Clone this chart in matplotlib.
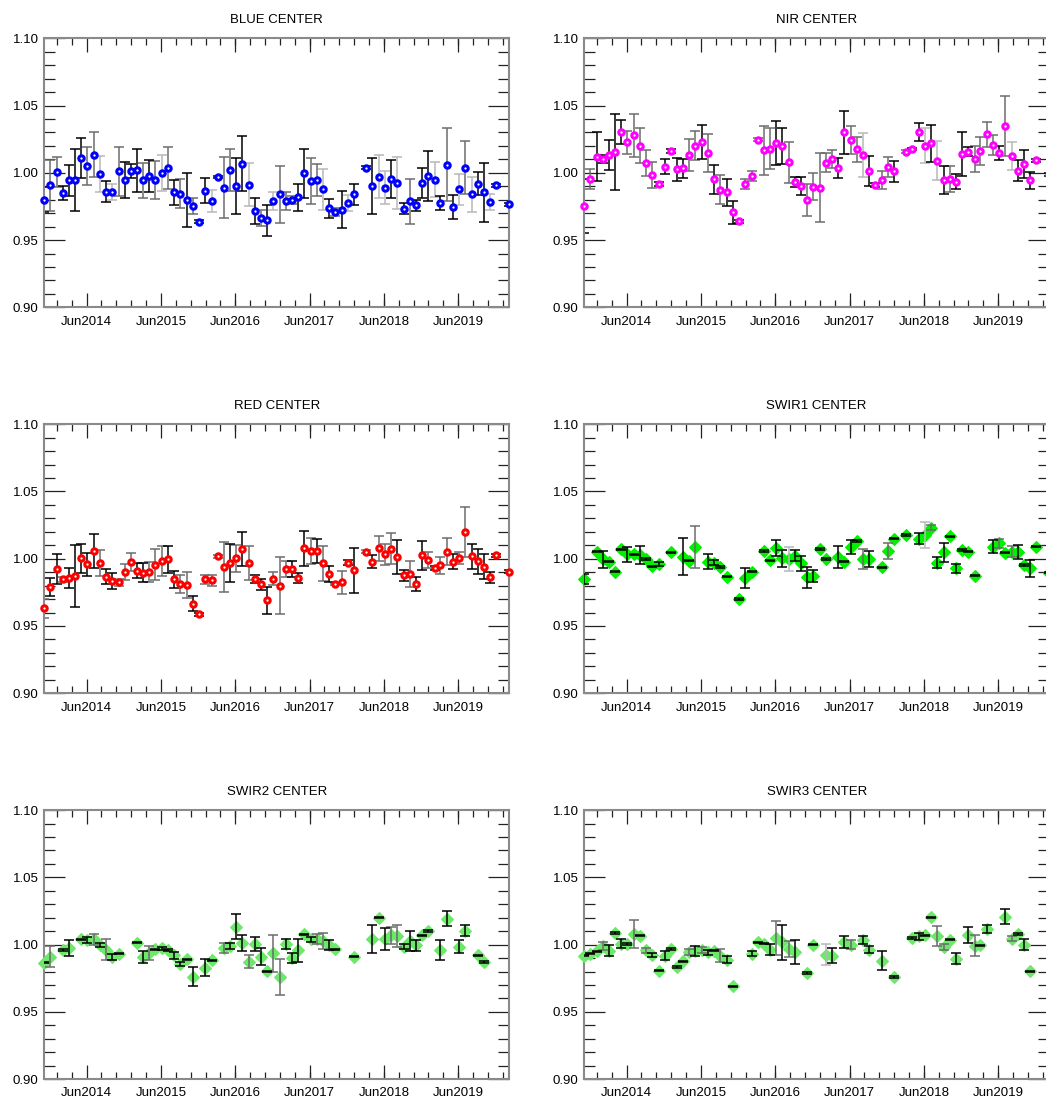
import numpy as np
import pandas as pd
import matplotlib
matplotlib.use('Agg')
import matplotlib.pyplot as plt
import matplotlib.dates as mdates
from matplotlib.ticker import MultipleLocator, AutoMinorLocator, FormatStrFormatter

plt.rcParams['font.family'] = ['Liberation Sans', 'DejaVu Sans']

# monthly acquisition slots, Nov2013 .. Feb2020
dates = pd.date_range('2013-11-05', periods=76, freq=pd.DateOffset(months=1))

blue_val = [0.980, 0.9906, 1.0005, 0.985, 0.9943, 0.9948, 1.011, 1.005, 1.0136, 0.999,
            0.986, 0.986, 1.001, 0.9945, 1.0015, 1.002, 0.9945, 0.9975, 0.9945, 1.000,
            1.0037, 0.9854, 0.9846, 0.980, 0.9755, 0.9636, 0.9866, 0.979, 0.9968, 0.989,
            1.002, 0.990, 1.0067, 0.991, 0.9717, 0.9663, 0.9646, 0.979, 0.984, 0.979,
            0.9797, 0.9817, 0.9995, 0.994, 0.9945, 0.9876, 0.9737, 0.9708, 0.9727, 0.9777,
            0.9839, None, 1.0037, 0.990, 0.997, 0.989, 0.9953, 0.9926, 0.9732, 0.9787,
            0.9757, 0.9923, 0.9978, 0.995, 0.9777, 1.006, 0.9747, 0.9876, 1.0037, 0.984,
            0.992, 0.9854, 0.9784, 0.9906, None, 0.9765]
blue_err = [0.0095, 0.019, 0.011, 0.0055, 0.0117, 0.023, 0.015, 0.014, 0.0165, 0.0135,
            0.0077, 0.006, 0.018, 0.0135, 0.0053, 0.016, 0.013, 0.012, 0.014, 0.0135,
            0.0157, 0.009, 0.011, 0.020, 0.006, 0.001, 0.0093, 0.0083, 0.001, 0.0225,
            0.0155, 0.021, 0.0205, 0.016, 0.0095, 0.006, 0.0114, 0.0065, 0.021, 0.007,
            0.003, 0.010, 0.0183, 0.017, 0.012, 0.015, 0.007, 0.003, 0.014, 0.006,
            0.008, None, 0.001, 0.021, 0.016, 0.0125, 0.014, 0.0195, 0.004, 0.017,
            0.004, 0.011, 0.0186, 0.013, 0.005, 0.027, 0.0087, 0.0118, 0.0198, 0.013,
            0.0087, 0.022, 0.0057, 0.001, None, 0.001]
blue_ec = ("kddkkkkddl" "kldkkkdkdl" "dkdkdkklkd" "dkklkdkldd"
           "dkkddlkdkl" "k.kkllklkd" "kkklkdkldl" "kklk.k")

nir_val = [0.9753, 0.9951, 1.012, 1.0103, 1.0132, 1.0155, 1.0303, 1.0227, 1.0279, 1.0202,
           1.007, 0.9984, 0.9917, 1.0046, 1.0162, 1.0026, 1.0033, 1.0132, 1.0202, 1.0229,
           1.0147, 0.9951, 0.9875, 0.9855, 0.9706, 0.9639, 0.9917, 0.9976, 1.0246, 1.0167,
           1.018, 1.0222, 1.0199, 1.0078, 0.9932, 0.9904, 0.9798, 0.9897, 0.989, 1.0075,
           1.0103, 1.0036, 1.0303, 1.0246, 1.0174, 1.0132, 1.0013, 0.9907, 0.9946, 1.0046,
           1.0011, None, 1.0157, 1.0177, 1.0301, 1.0202, 1.0219, 1.0088, 0.9946, 0.9954,
           0.9934, 1.014, 1.0157, 1.0103, 1.0162, 1.0286, 1.0207, 1.015, 1.0348, 1.0124,
           1.0016, 1.0063, 0.9944, 1.0093, None, 0.9985]
nir_err = [0.0198, 0.0075, 0.018, 0.003, 0.0114, 0.028, 0.009, 0.0087, 0.0158, 0.013,
           0.0097, 0.0096, 0.0015, 0.0056, 0.0015, 0.0087, 0.0068, 0.0117, 0.011, 0.0124,
           0.0138, 0.0105, 0.011, 0.010, 0.0088, 0.001, 0.004, 0.004, 0.001, 0.018,
           0.015, 0.0163, 0.0135, 0.0154, 0.0037, 0.0067, 0.012, 0.0102, 0.0256, 0.007,
           0.0066, 0.0072, 0.016, 0.0104, 0.0093, 0.0165, 0.011, 0.0015, 0.0066, 0.0074,
           0.0077, None, 0.001, 0.001, 0.0068, 0.013, 0.0136, 0.0145, 0.0104, 0.0097,
           0.0057, 0.0165, 0.0035, 0.0094, 0.0107, 0.0095, 0.0073, 0.0053, 0.0226, 0.0103,
           0.008, 0.0103, 0.0062, 0.001, None, 0.001]
nir_ec = ("kdkkkkkddd" "ddkkkkkddk" "dkdkkkdddd" "dkkdkkdddd"
          "dkkddlkkdd" "k.dkklklkd" "kkkddddkdl" "kkkk.k")

red_val = [0.9631, 0.9792, 0.9923, 0.9846, 0.9854, 0.9869, 1.0002, 0.9958, 1.0057, 0.9965,
           0.9866, 0.9834, 0.9824, 0.9901, 0.9975, 0.9911, 0.9896, 0.9901, 0.9955, 0.9985,
           0.9995, 0.9846, 0.9812, 0.9807, 0.9665, 0.9586, 0.9846, 0.9839, 1.0017, 0.9936,
           0.997, 1.0002, 1.0074, 0.9968, 0.9849, 0.9809, 0.969, 0.9851, 0.9799, 0.9923,
           0.9923, 0.9854, 1.0077, 1.0057, 1.0057, 0.9965, 0.9886, 0.9812, 0.9824, 0.997,
           0.9913, None, 1.0052, 0.9978, 1.0077, 1.0032, 1.0074, 1.0012, 0.9876, 0.9886,
           0.9812, 1.0025, 0.999, 0.9933, 0.995, 1.0052, 0.9978, 1.0007, 1.0198, 1.0017,
           0.998, 0.994, 0.9861, 1.0025, None, 0.9903]
red_err = [0.007, 0.0067, 0.0114, 0.002, 0.0074, 0.023, 0.0105, 0.0088, 0.0123, 0.0097,
           0.0056, 0.0056, 0.0025, 0.0056, 0.0065, 0.0056, 0.007, 0.0072, 0.0115, 0.011,
           0.0102, 0.0066, 0.0066, 0.0096, 0.0056, 0.001, 0.0034, 0.004, 0.001, 0.0185,
           0.014, 0.0103, 0.0126, 0.0128, 0.003, 0.0038, 0.0103, 0.005, 0.021, 0.006,
           0.006, 0.0037, 0.013, 0.0097, 0.0087, 0.013, 0.0057, 0.001, 0.0084, 0.002,
           0.0165, None, 0.001, 0.005, 0.0093, 0.008, 0.0114, 0.0124, 0.004, 0.0094,
           0.005, 0.011, 0.0062, 0.0016, 0.0065, 0.01, 0.0057, 0.0043, 0.0185, 0.0092,
           0.0093, 0.0093, 0.004, 0.001, None, 0.001]
red_ec = ("dkkdkkkkkd" "kkdddkkddd" "kkddkkdddd" "kdkdkkkddd"
          "kkkdkdkddk" "k.dkdddkkd" "kkdkddkddk" "kkkk.k")

swir1_val = [0.9849, None, 1.0052, 0.9995, 0.9978, 0.9903, 1.0069, 1.0032, 1.0032, 1.0027,
             0.9998, 0.9943, 0.9963, None, 1.0047, None, 1.0015, 0.9985, 1.0089, None,
             0.9978, 0.997, 0.9938, 0.9866, None, 0.97, 0.9859, 0.9903, None, 1.0057,
             0.9988, 1.0077, 1.0002, 0.9998, 1.0022, 0.9965, 0.9861, 0.9871, 1.0072, 0.9998,
             None, 1.0015, 0.9978, 1.0089, 1.0131, 0.9998, 0.9998, None, 0.9936, 1.0057,
             1.0149, None, 1.0176, None, 1.0149, 1.0176, 1.023, 0.997, 1.0047, 1.0166,
             0.9928, 1.0064, 1.0052, 0.9874, None, None, 1.0089, 1.0114, 1.0045, 1.0052,
             1.0052, 0.9953, 0.9928, 1.0089, None, 0.9896]
swir1_err = [0.004, None, 0.0005, 0.0065, 0.0005, 0.0005, 0.0005, 0.0058, 0.0005, 0.0065,
             0.0005, 0.0005, 0.0016, None, 0.0005, None, 0.0136, 0.0005, 0.0155, None,
             0.0056, 0.002, 0.0005, 0.0005, None, 0.0005, 0.0074, 0.0005, None, 0.0005,
             0.0005, 0.006, 0.006, 0.009, 0.004, 0.0056, 0.0078, 0.0046, 0.0005, 0.0005,
             None, 0.0082, 0.0005, 0.0052, 0.0005, 0.0074, 0.0062, None, 0.0005, 0.006,
             0.0005, None, 0.0005, None, 0.0043, 0.01, 0.002, 0.004, 0.0068, 0.0005,
             0.0036, 0.0005, 0.0005, 0.0005, None, None, 0.005, 0.0035, 0.0005, 0.0043,
             0.0052, 0.0005, 0.0062, 0.0005, None, 0.0005]
swir1_ec = ("k.kkkkkkkk" "kkk.k.kkd." "kkkk.kkk.k" "kkklkkkkkk"
            ".kkkkdk.kd" "k.k.kldkkk" "kkkk..kdkd" "kkkk.k")

swir2_val = [0.9866, 0.9911, None, 0.996, 0.9973, None, 1.004, 1.0032, 1.004, 0.9995,
             0.996, 0.9908, 0.9933, None, None, 1.0015, 0.9908, 0.994, 0.9965, 0.9973,
             0.996, 0.9921, 0.9859, 0.9891, 0.9762, None, 0.9829, 0.9884, None, 0.9978,
             0.999, 1.0134, 1.0015, 0.9874, 1.0002, 0.9911, 0.9802, 0.9936, 0.976, 1.0002,
             0.9903, 0.9958, 1.0077, 1.004, 1.0045, 1.0027, 0.9995, 0.9965, None, None,
             0.9911, None, None, 1.004, 1.0201, 1.004, 1.0069, 1.0064, 0.9985, 1.0027,
             0.9995, 1.0069, 1.0102, None, 0.996, 1.0193, None, 0.9983, 1.0104, None,
             0.9921, 0.9871, None, None, None, None]
swir2_err = [0.0005, 0.0077, None, 0.0005, 0.0058, None, 0.0005, 0.0022, 0.004, 0.0016,
             0.0078, 0.002, 0.0005, None, None, 0.0005, 0.0047, 0.0053, 0.0005, 0.001,
             0.0005, 0.0025, 0.0015, 0.0005, 0.0068, None, 0.0062, 0.0005, None, 0.0037,
             0.0025, 0.0092, 0.006, 0.0047, 0.0053, 0.0064, 0.0005, 0.0137, 0.0135, 0.0037,
             0.0037, 0.0084, 0.0005, 0.002, 0.0037, 0.0062, 0.0037, 0.0005, None, None,
             0.0005, None, None, 0.0105, 0.0005, 0.008, 0.0062, 0.0083, 0.002, 0.0077,
             0.004, 0.0005, 0.0005, None, 0.0074, 0.0057, None, 0.0048, 0.004, None,
             0.0005, 0.0005, None, None, None, None]
swir2_ec = ("kd.kk.kkdk" "dkk..kkdkk" "kkkkk.kk.d" "kkkdkkkddk"
            "kkkkddkk.." "k..kkkddkk" "kkk.kk.kk." "kk....")

swir3_val = [0.9918, 0.9933, 0.995, 0.9993, 0.9955, 1.0087, 1.0005, 1.0005, 1.0079, 1.0067,
             0.9958, 0.9921, 0.9807, 0.9918, 0.9968, 0.9834, 0.9876, 0.9945, 0.995, 0.9963,
             0.9943, 0.9955, 0.9918, 0.9888, 0.969, None, None, 0.9933, 1.0017, 1.0007,
             0.9963, 1.005, 1.0017, 0.997, 0.9943, None, 0.9789, 1.0, None, 0.9926,
             0.9918, None, 1.002, 1.0, None, 1.0037, 0.9963, None, 0.9881, None,
             0.976, None, None, 1.005, 1.0062, 1.0069, 1.0203, 1.0062, 0.9983, 1.0037,
             0.9896, None, 1.0069, 0.9993, 0.9995, 1.0116, None, None, 1.0206, 1.0045,
             1.0079, 1.0, 0.9802, None, None, None]
swir3_err = [0.0005, 0.0005, 0.0005, 0.003, 0.0042, 0.0005, 0.0033, 0.0005, 0.0103, 0.0005,
             0.002, 0.0016, 0.0005, 0.0036, 0.0005, 0.0005, 0.0005, 0.0025, 0.0038, 0.0022,
             0.002, 0.0005, 0.0048, 0.0025, 0.0005, None, None, 0.002, 0.0005, 0.0005,
             0.0042, 0.0126, 0.0129, 0.006, 0.009, None, 0.0005, 0.0005, None, 0.0077,
             0.0056, None, 0.0043, 0.0035, None, 0.003, 0.0025, None, 0.0073, None,
             0.0005, None, None, 0.0005, 0.0027, 0.0005, 0.0005, 0.0074, 0.0023, 0.0005,
             0.0043, None, 0.006, 0.0075, 0.0005, 0.0027, None, None, 0.0056, 0.002,
             0.0005, 0.0043, 0.0005, None, None, None]
swir3_ec = ("kkkdkkkkdk" "dkkkkkkdkd" "kkdkk..kkk" "kdkdk.kk.l"
            "k.kd.kk.k." "k..kkkkddk" "k.kdkk..kd" "kkk...")

bar_grays = {'k': '#000000', 'd': '#6c6c6c', 'l': '#b8b8b8'}


def draw_panel(ax, title, vals, errs, codes, color, marker):
    y = np.array(vals, dtype=float)
    e = np.array(errs, dtype=float)
    codes = np.array(list(codes))
    ok = ~np.isnan(y)
    diamond = marker == 'D'

    for c in ['l', 'd', 'k']:
        m = ok & (codes == c)
        if m.sum() == 0:
            continue
        ax.errorbar(dates[m], y[m], yerr=e[m], fmt='none', ecolor=bar_grays[c],
                    elinewidth=1.1, capsize=3.3, capthick=1.1,
                    zorder=4 if diamond else 2)

    if diamond:
        ax.plot(dates[ok], y[ok], ls='none', marker='D', ms=5.8, mfc=color,
                mec=color, mew=0.8, zorder=3, clip_on=False)
    else:
        ax.plot(dates[ok], y[ok], ls='none', marker='o', ms=3.9, mfc='white',
                mec=color, mew=2.2, zorder=3, clip_on=False)

    ax.set_xlim(dates[0], dates[-1])
    ax.set_ylim(0.90, 1.10)
    ax.yaxis.set_major_locator(MultipleLocator(0.05))
    ax.yaxis.set_minor_locator(MultipleLocator(0.01))
    ax.yaxis.set_major_formatter(FormatStrFormatter('%.2f'))
    ax.xaxis.set_major_locator(mdates.YearLocator(month=6, day=1))
    ax.xaxis.set_major_formatter(mdates.DateFormatter('%b%Y'))
    ax.xaxis.set_minor_locator(AutoMinorLocator(5))

    ax.tick_params(which='both', direction='in', top=True, right=True,
                   color='#222222', width=0.9, labelsize=9.5)
    ax.tick_params(axis='y', which='major', length=15, pad=4)
    ax.tick_params(axis='y', which='minor', length=8)
    ax.tick_params(axis='x', which='major', length=10, pad=6)
    ax.tick_params(axis='x', which='minor', length=5)
    for s in ax.spines.values():
        s.set_color('#8a8a8a')
        s.set_linewidth(1.5)
    ax.set_title(title, fontsize=9.5, pad=11)


fig = plt.figure(figsize=(10.46, 11.02), dpi=100)

col_left = [0.04235, 0.5586]
row_bottom = [0.72114, 0.37096, 0.02078]
w, h = 0.44426, 0.2441

panels = [
    ('BLUE CENTER', blue_val, blue_err, blue_ec, '#0000ff', 'o'),
    ('NIR CENTER', nir_val, nir_err, nir_ec, '#ff00ff', 'o'),
    ('RED CENTER', red_val, red_err, red_ec, '#ff0000', 'o'),
    ('SWIR1 CENTER', swir1_val, swir1_err, swir1_ec, '#00f000', 'D'),
    ('SWIR2 CENTER', swir2_val, swir2_err, swir2_ec, '#6ee86a', 'D'),
    ('SWIR3 CENTER', swir3_val, swir3_err, swir3_ec, '#6ee86a', 'D'),
]

for i, p in enumerate(panels):
    ax = fig.add_axes([col_left[i % 2], row_bottom[i // 2], w, h])
    draw_panel(ax, *p)

fig.savefig('out.png', dpi=100)
